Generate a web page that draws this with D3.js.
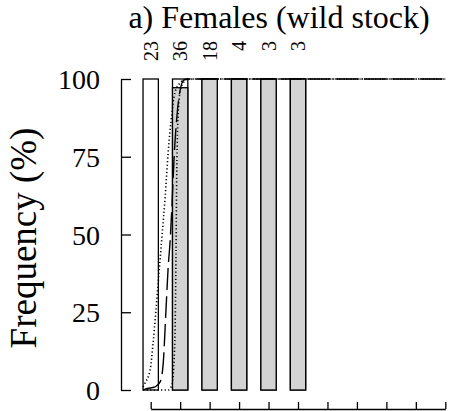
<!DOCTYPE html>
<html>
<head>
<meta charset="utf-8">
<script src="https://cdn.jsdelivr.net/npm/d3@7"></script>
</head>
<body style="margin:0">
<script>
// ---- data ----
const title = "a) Females (wild stock)";
const yLabel = "Frequency (%)";
const classes = [0, 1, 2, 3, 4, 5];            // length-class index (bar positions)
const sampleSizes = [23, 36, 18, 4, 3, 3];      // n per class
const maturePct = [0, 97.2, 100, 100, 100, 100]; // % mature (grey part)
const yTicks = [0, 25, 50, 75, 100];
const xTicks = [0, 1, 2, 3, 4, 5, 6, 7, 8, 9, 10];

// fitted ogives: [class index, % mature]
const ogiveDotted1 = [[-0.26, 1], [-0.19, 2.3], [-0.02, 6.4], [0.08, 15], [0.25, 34], [0.38, 49],
  [0.49, 62], [0.59, 76], [0.72, 89], [0.82, 95.5], [0.99, 98.7], [1.16, 99.8], [1.5, 100], [10, 100]];
const ogiveDotted2 = [[-0.26, 0], [0.59, 0], [0.72, 1.6], [0.82, 16], [0.86, 45], [0.89, 74],
  [0.96, 93], [1.06, 98], [1.27, 100], [10, 100]];
const ogiveDashed = [[-0.26, 0], [-0.19, 0.3], [0.15, 1], [0.32, 2.6], [0.42, 8], [0.52, 26],
  [0.59, 39], [0.66, 48], [0.72, 59], [0.79, 74], [0.89, 88], [0.99, 96], [1.13, 99.7],
  [1.27, 100], [10, 100]];

const FONT = "'Liberation Serif'";

// ---- layout ----
const W = 452, H = 411;
const svg = d3.select("body").append("svg")
  .attr("width", W).attr("height", H)
  .style("display", "block");
svg.append("rect").attr("width", W).attr("height", H).attr("fill", "#fff");

const x = d3.scaleLinear().domain([0, 10]).range([150.7, 445.3]);
const y = d3.scaleLinear().domain([0, 100]).range([390, 79]);
const halfW = 0.26;

// text helper: place a label with a given anchor
function label(g, str, size, anchor, tx, ty, rot, dy) {
  const t = g.append("text").attr("font-family", FONT).style("font-family", FONT)
    .attr("font-size", size).attr("fill", "#000").text(str);
  const len = t.node().getComputedTextLength();
  const off = anchor === "middle" ? -len / 2 : anchor === "end" ? -len : 0;
  t.attr("x", off).attr("y", dy || 0)
    .attr("transform", `translate(${tx},${ty})` + (rot ? ` rotate(${rot})` : ""));
  return t;
}

// bars: full-height white (immature) with grey mature part at the bottom
const bars = svg.append("g");
classes.forEach((c, i) => {
  bars.append("rect")
    .attr("x", x(c - halfW)).attr("y", y(100))
    .attr("width", x(c + halfW) - x(c - halfW))
    .attr("height", y(0) - y(100))
    .attr("fill", "#fff").attr("stroke", "#000").attr("stroke-width", 1.3);
  if (maturePct[i] > 0) {
    bars.append("rect")
      .attr("x", x(c - halfW)).attr("y", y(maturePct[i]))
      .attr("width", x(c + halfW) - x(c - halfW))
      .attr("height", y(0) - y(maturePct[i]))
      .attr("fill", "#d3d3d3").attr("stroke", "#000").attr("stroke-width", 1.3);
  }
});

// sample sizes above bars
const nG = svg.append("g");
classes.forEach((c, i) => label(nG, String(sampleSizes[i]), 20, "end", x(c), 41, -90, 7));

// ogive curves
const line = d3.line().x(d => x(d[0])).y(d => y(d[1])).curve(d3.curveMonotoneX);
const curves = svg.append("g").attr("fill", "none").attr("stroke", "#000");
curves.append("path").attr("d", line(ogiveDashed))
  .attr("stroke-width", 1.4).attr("stroke-dasharray", "22,6");
curves.append("path").attr("d", line(ogiveDotted1))
  .attr("stroke-width", 1.6).attr("stroke-dasharray", "1.2,2.4");
curves.append("path").attr("d", line(ogiveDotted2))
  .attr("stroke-width", 1.6).attr("stroke-dasharray", "1.2,2.4");

// y axis (ticks pointing inward); labels drawn separately
const yAxis = d3.axisLeft(y).tickValues(yTicks).tickSize(-10).tickSizeOuter(0).tickFormat("");
const gy = svg.append("g").attr("transform", "translate(121,0)").call(yAxis);
gy.selectAll("path,line").attr("stroke", "#000").attr("stroke-width", 1.3);
const yl = svg.append("g");
yTicks.forEach(v => label(yl, String(v), 28, "end", 100, y(v), 0, 10));

// x axis (ticks pointing inward, labels outside the picture)
const xAxis = d3.axisBottom(x).tickValues(xTicks).tickSize(-7).tickSizeOuter(0).tickFormat("");
const gx = svg.append("g").attr("transform", "translate(0,409)").call(xAxis);
gx.selectAll("path,line").attr("stroke", "#000").attr("stroke-width", 1.3);

// titles
label(svg, title, 32, "middle", 279, 28, 0, 0);
label(svg, yLabel, 37, "middle", 36, 238, -90, 0);
</script>
</body>
</html>
